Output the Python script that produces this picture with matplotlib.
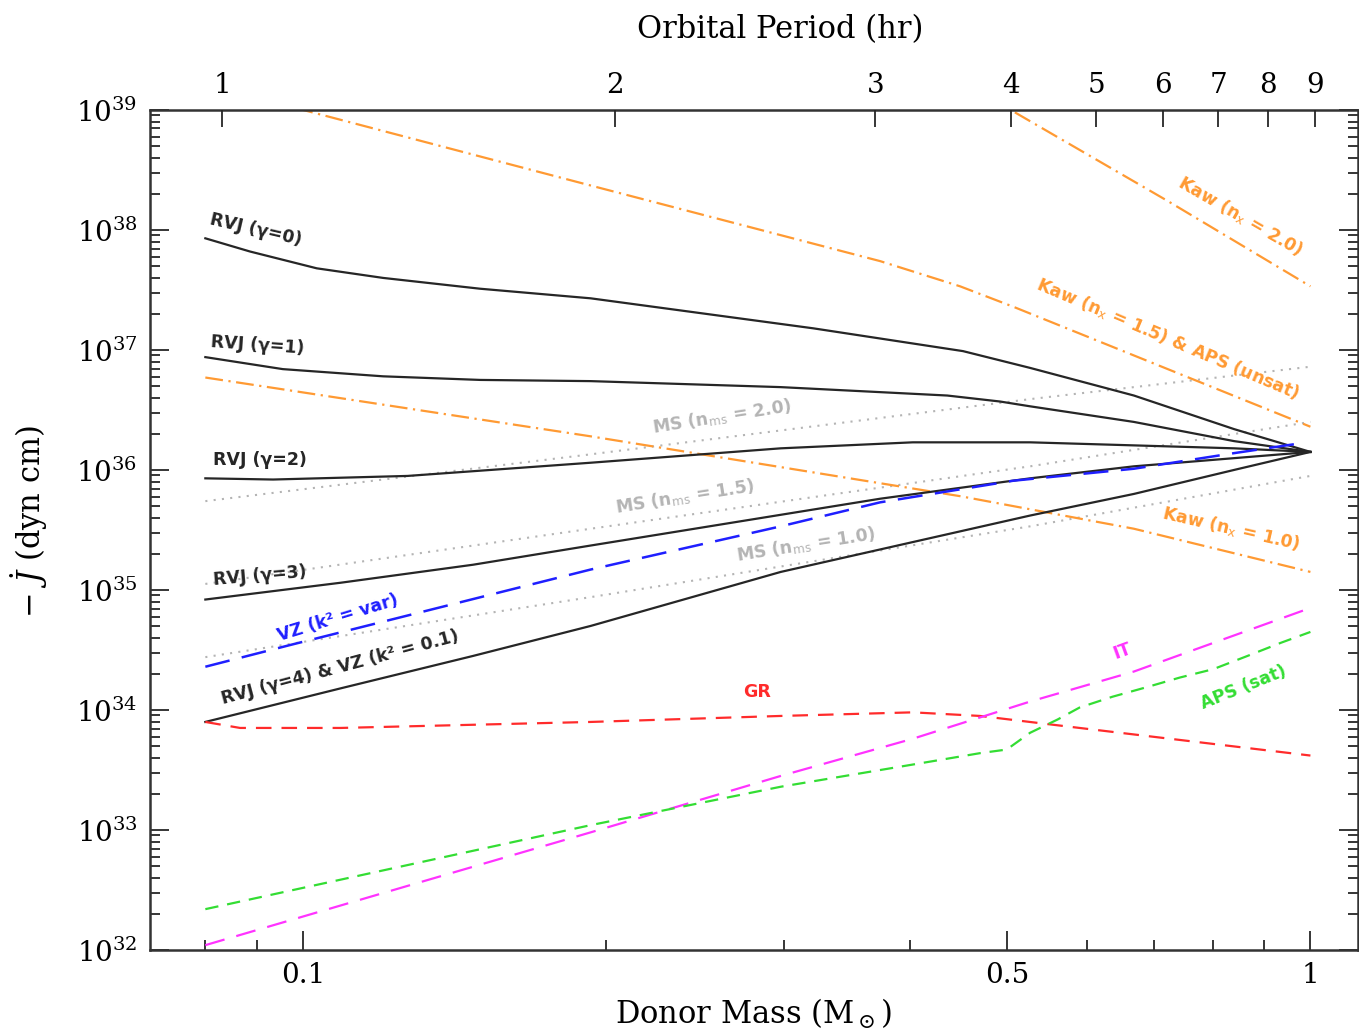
import matplotlib.pyplot as plt
import numpy as np
from matplotlib.ticker import FixedLocator, NullFormatter, NullLocator

plt.rcParams['font.family'] = 'DejaVu Serif'
plt.rcParams['mathtext.fontset'] = 'dejavuserif'

# donor mass (Msun) and log10(-Jdot / dyn cm)
m_rvj0 = [0.08, 0.0886, 0.1032, 0.1201, 0.1499, 0.193, 0.321, 0.452, 0.527, 0.668, 0.84, 1.0]
j_rvj0 = [37.93, 37.82, 37.68, 37.60, 37.51, 37.43, 37.18, 36.99, 36.85, 36.62, 36.34, 36.15]
m_rvj1 = [0.08, 0.0955, 0.1201, 0.1499, 0.193, 0.298, 0.436, 0.492, 0.527, 0.668, 0.84, 1.0]
j_rvj1 = [36.94, 36.84, 36.78, 36.75, 36.74, 36.69, 36.62, 36.57, 36.53, 36.40, 36.24, 36.15]
m_rvj2 = [0.08, 0.0934, 0.127, 0.193, 0.298, 0.403, 0.527, 0.84, 1.0]
j_rvj2 = [35.93, 35.92, 35.95, 36.06, 36.18, 36.23, 36.23, 36.18, 36.15]
m_rvj3 = [0.08, 0.109, 0.1475, 0.193, 0.374, 0.527, 0.668, 1.0]
j_rvj3 = [34.92, 35.06, 35.21, 35.37, 35.76, 35.93, 36.03, 36.15]
m_rvj4 = [0.08, 0.109, 0.1475, 0.193, 0.298, 0.527, 0.668, 0.84, 1.0]
j_rvj4 = [33.90, 34.18, 34.45, 34.70, 35.15, 35.62, 35.80, 36.00, 36.15]

m_vz = [0.08, 0.097, 0.193, 0.298, 0.374, 0.507, 0.668, 0.84, 0.974]
j_vz = [34.36, 34.54, 35.17, 35.53, 35.73, 35.91, 36.01, 36.14, 36.22]

m_ms = [0.08, 0.193, 0.527, 1.0]
j_ms20 = [35.74, 36.13, 36.59, 36.86]
j_ms15 = [35.05, 35.51, 36.03, 36.40]
j_ms10 = [34.44, 34.94, 35.53, 35.95]

m_kaw15 = [0.08, 0.1, 0.193, 0.374, 0.449, 0.507, 1.0]
j_kaw15 = [39.22, 39.0, 38.37, 37.74, 37.53, 37.36, 36.36]
m_kaw20 = [0.45, 0.504, 0.722, 1.0]
j_kaw20 = [39.24, 39.0, 38.24, 37.53]
m_kaw10 = [0.08, 0.193, 0.45, 0.668, 1.0]
j_kaw10 = [36.77, 36.28, 35.78, 35.51, 35.15]

m_gr = [0.08, 0.0866, 0.109, 0.193, 0.298, 0.403, 0.470, 0.59, 0.742, 1.0]
j_gr = [33.90, 33.85, 33.85, 33.90, 33.95, 33.98, 33.95, 33.85, 33.75, 33.62]
m_it = [0.08, 0.1174, 0.193, 0.298, 0.403, 0.527, 0.668, 1.0]
j_it = [32.04, 32.45, 32.98, 33.45, 33.76, 34.07, 34.32, 34.85]
m_aps = [0.08, 0.193, 0.298, 0.403, 0.47, 0.4995, 0.527, 0.561, 0.59, 0.636,
         0.688, 0.742, 0.801, 0.866, 0.935, 1.0]
j_aps = [32.34, 33.04, 33.36, 33.545, 33.64, 33.67, 33.81, 33.92, 34.02, 34.11,
         34.19, 34.27, 34.34, 34.45, 34.56, 34.65]

# orbital period ticks on the top axis (hr) and the donor mass where they fall
period_hr = [1, 2, 3, 4, 5, 6, 7, 8, 9]
period_mass = [0.0831, 0.204, 0.370, 0.504, 0.613, 0.714, 0.810, 0.908, 1.01]

BLACK = '#262626'
ORANGE = '#ff9a33'
GREY = '#b4b4b4'

fig = plt.figure(figsize=(13.59, 10.32), dpi=100)
ax = fig.add_axes([0.1104, 0.0795, 0.8889, 0.814])


def curve(m, j, **kw):
    ax.plot(m, 10 ** np.array(j), **kw)


dashdot = (0, (8, 2.5, 1, 2.5))
for m, j in [(m_ms, j_ms20), (m_ms, j_ms15), (m_ms, j_ms10)]:
    curve(m, j, color=GREY, lw=1.5, ls=(0, (1, 3)))
for m, j in [(m_kaw15, j_kaw15), (m_kaw20, j_kaw20), (m_kaw10, j_kaw10)]:
    curve(m, j, color=ORANGE, lw=1.6, ls=dashdot)
for m, j in [(m_rvj0, j_rvj0), (m_rvj1, j_rvj1), (m_rvj2, j_rvj2),
             (m_rvj3, j_rvj3), (m_rvj4, j_rvj4)]:
    curve(m, j, color=BLACK, lw=1.6)
curve(m_vz, j_vz, color='#1f1fff', lw=1.8, ls=(0, (10, 5)))
curve(m_gr, j_gr, color='#ff2b2b', lw=1.6, ls=(0, (7, 4.5)))
curve(m_it, j_it, color='#ff33ff', lw=1.6, ls=(0, (9, 5.5)))
curve(m_aps, j_aps, color='#33dd33', lw=1.6, ls=(0, (6, 4)))

ax.set_xscale('log')
ax.set_yscale('log')
ax.set_xlim(0.0705, 1.115)
ax.set_ylim(1e32, 1e39)

ax.xaxis.set_major_locator(FixedLocator([0.1, 0.5, 1.0]))
ax.set_xticklabels(['0.1', '0.5', '1'])
ax.xaxis.set_minor_locator(FixedLocator([0.08, 0.09, 0.2, 0.3, 0.4, 0.6, 0.7, 0.8, 0.9]))
ax.xaxis.set_minor_formatter(NullFormatter())
ax.yaxis.set_minor_formatter(NullFormatter())
ax.tick_params(which='both', direction='in', top=False, right=True,
               labelsize=20, width=1.3, color=BLACK)
ax.tick_params(which='major', length=14, pad=9)
ax.tick_params(which='minor', length=7)
for sp in ax.spines.values():
    sp.set_linewidth(1.8)
    sp.set_color('#333333')

ax.set_xlabel(r'Donor Mass (M$_\odot$)', fontsize=22)
ax.xaxis.set_label_coords(0.5, -0.056)
ax.set_ylabel(r'$-\ \dot{J}$ (dyn cm)', fontsize=22)
ax.yaxis.set_label_coords(-0.083, 0.51)

ax2 = ax.twiny()
ax2.set_xscale('log')
ax2.set_xlim(ax.get_xlim())
ax2.set_xticks(period_mass)
ax2.set_xticklabels([str(p) for p in period_hr])
ax2.xaxis.set_minor_locator(NullLocator())
ax2.yaxis.set_visible(False)
ax2.tick_params(direction='in', length=12, width=1.3, labelsize=20, pad=8, color=BLACK)
for sp in ax2.spines.values():
    sp.set_visible(False)
ax2.set_xlabel('Orbital Period (hr)', fontsize=22)
ax2.xaxis.set_label_coords(0.5215, 1.085)

# curve labels
lab = dict(family='DejaVu Sans', fontweight='bold', fontsize=12.5,
           ha='center', va='center', rotation_mode='anchor')
ax.text(0.0898, 10**38.0, 'RVJ (γ=0)', rotation=-13, color=BLACK, **lab)
ax.text(0.0902, 10**37.04, 'RVJ (γ=1)', rotation=-4, color=BLACK, **lab)
ax.text(0.0906, 10**36.08, 'RVJ (γ=2)', rotation=0, color=BLACK, **lab)
ax.text(0.0906, 10**35.115, 'RVJ (γ=3)', rotation=5, color=BLACK, **lab)
ax.text(0.1083, 10**34.77, 'VZ (k² = var)', rotation=17, color='#1f1fff', **lab)
ax.text(0.1088, 10**34.355, 'RVJ (γ=4) & VZ (k² = 0.1)', rotation=15, color=BLACK, **lab)
ax.text(0.2605, 10**36.44, r'MS (n$_\mathsf{ms}$ = 2.0)', rotation=9, color=GREY, **lab)
ax.text(0.2393, 10**35.775, r'MS (n$_\mathsf{ms}$ = 1.5)', rotation=9, color=GREY, **lab)
ax.text(0.3157, 10**35.38, r'MS (n$_\mathsf{ms}$ = 1.0)', rotation=9, color=GREY, **lab)
ax.text(0.851, 10**38.115, r'Kaw (n$_\mathsf{x}$ = 2.0)', rotation=-30, color=ORANGE, **lab)
ax.text(0.7223, 10**37.095, r'Kaw (n$_\mathsf{x}$ = 1.5) & APS (unsat)', rotation=-23, color=ORANGE, **lab)
ax.text(0.8348, 10**35.51, r'Kaw (n$_\mathsf{x}$ = 1.0)', rotation=-13, color=ORANGE, **lab)
ax.text(0.2823, 10**34.146, 'GR', rotation=0, color='#ff2b2b', **lab)
ax.text(0.6509, 10**34.49, 'IT', rotation=20, color='#ff33ff', **lab)
ax.text(0.8582, 10**34.19, 'APS (sat)', rotation=22, color='#33dd33', **lab)

fig.savefig('out.png', dpi=100)
